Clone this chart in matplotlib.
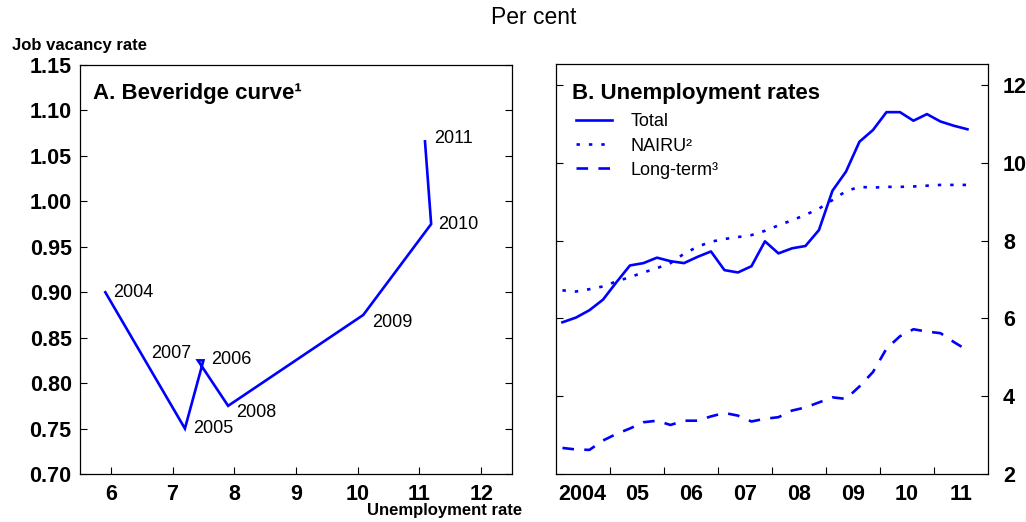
import matplotlib
matplotlib.use("Agg")
import matplotlib.pyplot as plt
import numpy as np

plt.rcParams['font.family'] = ['Liberation Sans', 'DejaVu Sans']

BLUE = '#0000ff'

# Panel A: Beveridge curve (annual points)
bev_years = ['2004', '2005', '2006', '2007', '2008', '2009', '2010', '2011']
bev_unemp = [5.91, 7.20, 7.50, 7.41, 7.90, 10.09, 11.19, 11.09]
bev_vacancy = [0.900, 0.750, 0.825, 0.825, 0.775, 0.875, 0.975, 1.066]
# label offsets (x, y in data units) and alignment
bev_label_dx = [0.12, 0.13, 0.13, -0.11, 0.13, 0.14, 0.12, 0.15]
bev_label_dy = [0.000, 0.000, 0.001, 0.008, -0.007, -0.008, 0.000, 0.003]
bev_label_ha = ['left', 'left', 'left', 'right', 'left', 'left', 'left', 'left']

# Panel B: quarterly unemployment rates, 2004Q1-2011Q3
total = [5.90, 6.02, 6.21, 6.48, 6.93, 7.36, 7.42, 7.56, 7.47, 7.42, 7.58,
         7.72, 7.24, 7.18, 7.34, 7.98, 7.67, 7.80, 7.86, 8.27, 9.28, 9.77,
         10.54, 10.84, 11.30, 11.30, 11.08, 11.25, 11.06, 10.95, 10.86]
nairu = [6.72, 6.69, 6.75, 6.82, 6.95, 7.06, 7.18, 7.29, 7.42, 7.66, 7.84,
         7.97, 8.04, 8.09, 8.14, 8.25, 8.39, 8.52, 8.66, 8.82, 9.04, 9.27,
         9.38, 9.36, 9.38, 9.38, 9.39, 9.41, 9.43, 9.43, 9.43]
long_term = [2.67, 2.63, 2.62, 2.86, 3.03, 3.17, 3.33, 3.37, 3.26, 3.37, 3.37,
             3.48, 3.57, 3.50, 3.35, 3.42, 3.46, 3.63, 3.71, 3.84, 3.97, 3.93,
             4.25, 4.62, 5.22, 5.54, 5.72, 5.66, 5.62, 5.39, 5.18]
quarters = 2004.125 + 0.25 * np.arange(len(total))
year_labels = ['2004', '05', '06', '07', '08', '09', '10', '11']

W, H = 1026, 522
fig = plt.figure(figsize=(W / 100, H / 100), dpi=100)

def frac(x0, y0, x1, y1):
    return [x0 / W, 1 - y1 / H, (x1 - x0) / W, (y1 - y0) / H]

tick_font = dict(fontsize=15.5, fontweight='bold')

# ---------- Panel A ----------
axA = fig.add_axes(frac(80, 65, 512, 474))
axA.plot(bev_unemp, bev_vacancy, color=BLUE, lw=1.9, solid_joinstyle='miter')
for yr, x, y, dx, dy, ha in zip(bev_years, bev_unemp, bev_vacancy,
                                bev_label_dx, bev_label_dy, bev_label_ha):
    axA.text(x + dx, y + dy, yr, ha=ha, va='center', fontsize=13)
axA.set_xlim(5.5, 12.5)
axA.set_ylim(0.70, 1.15)
axA.set_xticks(range(6, 13))
axA.set_yticks(np.arange(0.70, 1.151, 0.05))
axA.set_yticklabels([f'{v:.2f}' for v in np.arange(0.70, 1.151, 0.05)], **tick_font)
axA.set_xticklabels([str(v) for v in range(6, 13)], **tick_font)
axA.tick_params(direction='in', length=5, width=0.8, right=True, top=False,
                pad=6)
axA.tick_params(axis='x', pad=7)
axA.text(0.03, 0.955, 'A. Beveridge curve¹', transform=axA.transAxes,
         fontsize=16, fontweight='bold', ha='left', va='top')

# ---------- Panel B ----------
axB = fig.add_axes(frac(555.7, 64.3, 987.7, 474))
axB.plot(quarters, total, color=BLUE, lw=1.9, label='Total')
axB.plot(quarters, nairu, color=BLUE, lw=1.9, dashes=(1.3, 3.4),
         dash_capstyle='butt', label='NAIRU²')
axB.plot(quarters, long_term, color=BLUE, lw=1.9, dashes=(4.4, 3.9),
         dash_capstyle='butt', label='Long-term³')
axB.set_xlim(2004, 2012)
axB.set_ylim(2, 12.53)
axB.set_xticks(range(2005, 2012))
axB.set_xticklabels([])
axB.set_xticks(np.arange(2004.5, 2012, 1.0), minor=True)
axB.set_xticklabels(year_labels, minor=True, **tick_font)
axB.tick_params(axis='x', which='minor', length=0, pad=7)
axB.tick_params(axis='x', which='major', direction='in', length=5, width=0.8)
axB.set_yticks(range(2, 13, 2))
axB.yaxis.tick_right()
axB.set_yticklabels([str(v) for v in range(2, 13, 2)], **tick_font)
axB.tick_params(axis='y', direction='in', length=5, width=0.8, left=True,
                right=True, labelleft=False, labelright=True, pad=11)
axB.text(0.038, 0.955, 'B. Unemployment rates', transform=axB.transAxes,
         fontsize=16, fontweight='bold', ha='left', va='top')
leg = axB.legend(loc='upper left', bbox_to_anchor=(0.031, 0.898), frameon=False,
                 fontsize=13, handlelength=2.0, handletextpad=1.0,
                 labelspacing=0.4, borderaxespad=0)

for ax in (axA, axB):
    for s in ax.spines.values():
        s.set_linewidth(0.9)

# ---------- Figure-level text ----------
fig.text(534 / W, 1 - 18 / H, 'Per cent', ha='center', va='center', fontsize=16.5)
fig.text(12 / W, 1 - 45 / H, 'Job vacancy rate', ha='left', va='center',
         fontsize=12, fontweight='bold')
fig.text(367 / W, 1 - 511 / H, 'Unemployment rate', ha='left', va='center',
         fontsize=12, fontweight='bold')

fig.savefig('out.png', dpi=100)
